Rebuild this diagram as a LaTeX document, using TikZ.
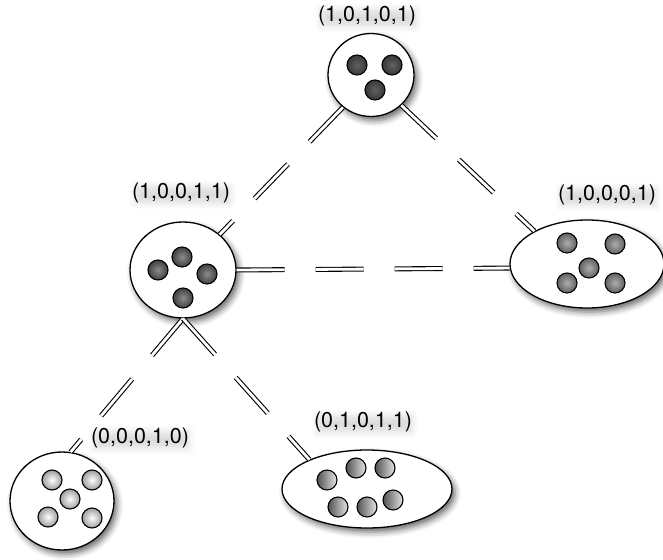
\documentclass[tikz,border=0pt]{standalone}
\usepackage{fontspec}
\setmainfont{TeX Gyre Heros}
\usetikzlibrary{shapes.geometric,shadows.blur}

\tikzset{
  state/.style={ellipse, draw, line width=1.3pt, fill=white, inner sep=0pt,
    blur shadow={shadow xshift=3pt, shadow yshift=-4pt, shadow blur radius=6pt, shadow opacity=60}},
  ball/.style={circle, draw, line width=1.1pt, inner sep=0pt, minimum size=20pt},
  darkball/.style={ball, inner color=black!62, outer color=black!78},
  midball/.style={ball, inner color=black!45, outer color=black!75},
  greyball/.style={ball, inner color=black!32, outer color=black!62},
  paleball/.style={ball, inner color=white, outer color=black!38},
  sheenball/.style={ball, left color=black!68, right color=black!10},
  tag/.style={font=\fontsize{21.5}{24}\selectfont, inner sep=-2pt,
    blur shadow={shadow xshift=1.5pt, shadow yshift=-2pt, shadow blur radius=7pt, shadow opacity=14}},
  link/.style={draw, line width=1.1pt, double=white, double distance=2.8pt,
    dash pattern=on 48pt off 31pt}
}

\begin{document}
\begin{tikzpicture}[x=1pt, y=-1pt]
  \useasboundingbox (0,0) rectangle (663,559);

  % states
  \node[state, minimum width=86pt, minimum height=83pt] (top) at (371,75) {};
  \node[state, minimum width=106pt, minimum height=96pt] (mid) at (183,270) {};
  \node[state, minimum width=154pt, minimum height=88pt] (right) at (587,264) {};
  \node[state, minimum width=104pt, minimum height=98pt] (bl) at (62,501) {};
  \node[state, minimum width=170pt, minimum height=78pt] (bot) at (367,489) {};

  % labels
  \node[tag] (ltop) at (367,16) {(1,0,1,0,1)};
  \node[tag] (lmid) at (181,193) {(1,0,0,1,1)};
  \node[tag] (lright) at (607,195) {(1,0,0,0,1)};
  \node[tag] (lbl) at (140,438) {(0,0,0,1,0)};
  \node[tag] (lbot) at (363,422) {(0,1,0,1,1)};

  % balls inside (1,0,1,0,1)
  \node[darkball] (t1) at (357,65) {};
  \node[darkball] (t2) at (392,65) {};
  \node[darkball] (t3) at (375,90) {};

  % balls inside (1,0,0,1,1)
  \node[midball] (m1) at (158,270) {};
  \node[midball] (m2) at (182,257) {};
  \node[midball] (m3) at (207,274) {};
  \node[midball] (m4) at (183,298) {};

  % balls inside (1,0,0,0,1)
  \node[greyball] (r1) at (567,243) {};
  \node[greyball] (r2) at (615,244) {};
  \node[greyball] (r3) at (589,268) {};
  \node[greyball] (r4) at (567,283) {};
  \node[greyball] (r5) at (615,283) {};

  % balls inside (0,0,0,1,0)
  \node[paleball] (b1) at (52,480) {};
  \node[paleball] (b2) at (92,480) {};
  \node[paleball] (b3) at (70,499) {};
  \node[paleball] (b4) at (48,517) {};
  \node[paleball] (b5) at (92,518) {};

  % balls inside (0,1,0,1,1)
  \node[sheenball] (o1) at (327,480) {};
  \node[sheenball] (o2) at (356,468) {};
  \node[sheenball] (o3) at (385,468) {};
  \node[sheenball] (o4) at (338,507) {};
  \node[sheenball] (o5) at (367,507) {};
  \node[sheenball] (o6) at (393,500) {};

  % dashed double links
  \path[link] (top.229) -- (mid.44);
  \path[link] (top.315) -- (right.148);
  \path[link] (mid.0) -- (right.183);
  \path[link] (mid.south) -- (bl.80);
  \path[link] (mid.south) -- (bot.153);
\end{tikzpicture}
\end{document}
